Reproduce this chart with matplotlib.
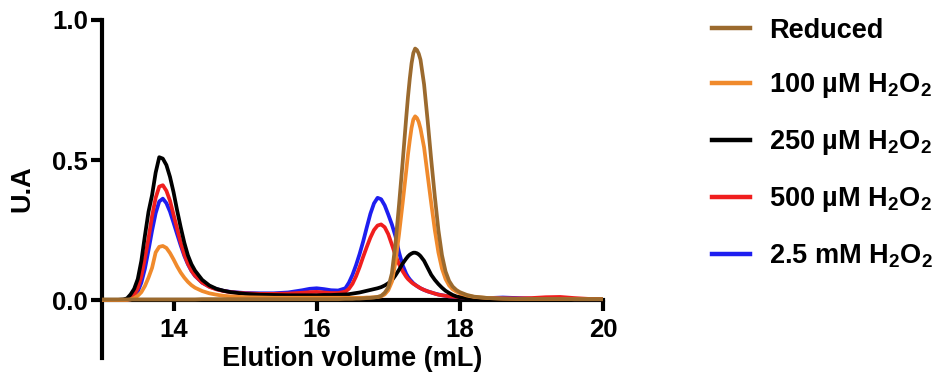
import numpy as np
import matplotlib
matplotlib.use('Agg')
import matplotlib.pyplot as plt

plt.rcParams['font.family'] = ['Liberation Sans', 'DejaVu Sans']
plt.rcParams['font.weight'] = 'bold'
plt.rcParams['mathtext.fontset'] = 'custom'
plt.rcParams['mathtext.rm'] = 'Liberation Sans:bold'
plt.rcParams['mathtext.it'] = 'Liberation Sans:bold'
plt.rcParams['mathtext.bf'] = 'Liberation Sans:bold'

########################################
# elution volume grid (mL) and absorbance
########################################

volume = [13.0, 13.2, 13.3, 13.35,
          13.4, 13.45, 13.5, 13.55, 13.6, 13.65, 13.7, 13.75, 13.8, 13.85,
          13.9, 13.95, 14.0, 14.05, 14.1, 14.15, 14.2, 14.25, 14.3,
          14.4, 14.5, 14.6, 14.7, 14.8, 15.0, 15.2, 15.4, 15.6, 15.8, 15.9,
          16.0, 16.1, 16.2, 16.3,
          16.4, 16.45, 16.5, 16.55, 16.6, 16.65, 16.7, 16.75, 16.8, 16.85,
          16.9, 16.95, 17.0, 17.05, 17.1, 17.15, 17.2, 17.25, 17.275, 17.3,
          17.325, 17.35, 17.375, 17.4, 17.425, 17.45,
          17.5, 17.55, 17.6, 17.65, 17.7, 17.75, 17.8, 17.85,
          17.9, 17.95, 18.0,
          18.1, 18.2, 18.4, 18.6, 18.8, 19.0, 19.2, 19.4, 19.6, 19.8, 20.0]

reduced = [0.002, 0.002, 0.002, 0.002,
           0.002, 0.002, 0.002, 0.002, 0.002, 0.002, 0.002, 0.002, 0.002, 0.002,
           0.002, 0.002, 0.002, 0.002, 0.002, 0.002, 0.002, 0.002, 0.002,
           0.003, 0.003, 0.003, 0.003, 0.003, 0.003, 0.003, 0.003, 0.003, 0.003, 0.003,
           0.003, 0.003, 0.003, 0.003,
           0.004, 0.004, 0.004, 0.005, 0.005, 0.006, 0.007, 0.008, 0.009, 0.011,
           0.015, 0.026, 0.045, 0.095, 0.2, 0.34, 0.49, 0.65, 0.725, 0.79,
           0.845, 0.882, 0.898, 0.893, 0.88, 0.858,
           0.77, 0.64, 0.5, 0.37, 0.25, 0.16, 0.102, 0.068,
           0.048, 0.036, 0.028,
           0.018, 0.012, 0.007, 0.005, 0.004, 0.004, 0.004, 0.004, 0.003, 0.003, 0.003]

h2o2_100uM = [0.0, 0.0, 0.0, 0.0,
              0.002, 0.007, 0.015, 0.028, 0.05, 0.08, 0.115, 0.17, 0.19, 0.193,
              0.186, 0.168, 0.145, 0.12, 0.098, 0.08, 0.065, 0.053, 0.044,
              0.032, 0.024, 0.019, 0.015, 0.013, 0.01, 0.009, 0.008, 0.008, 0.008, 0.008,
              0.008, 0.008, 0.008, 0.008,
              0.008, 0.008, 0.008, 0.008, 0.008, 0.008, 0.009, 0.009, 0.01, 0.011,
              0.013, 0.02, 0.035, 0.065, 0.135, 0.235, 0.345, 0.46, 0.52, 0.57,
              0.615, 0.645, 0.656, 0.65, 0.636, 0.612,
              0.545, 0.445, 0.345, 0.25, 0.17, 0.112, 0.075, 0.052,
              0.038, 0.03, 0.024,
              0.016, 0.011, 0.007, 0.005, 0.004, 0.004, 0.004, 0.004, 0.003, 0.003, 0.003]

h2o2_250uM = [0.0, 0.0, 0.002, 0.006,
              0.02, 0.04, 0.075, 0.14, 0.23, 0.315, 0.375, 0.455, 0.51, 0.505,
              0.482, 0.44, 0.385, 0.32, 0.26, 0.205, 0.16, 0.128, 0.105,
              0.072, 0.052, 0.04, 0.033, 0.028, 0.022, 0.019, 0.018, 0.017, 0.017, 0.017,
              0.017, 0.018, 0.018, 0.019,
              0.02, 0.021, 0.023, 0.025, 0.027, 0.03, 0.033, 0.036, 0.039, 0.042,
              0.046, 0.052, 0.06, 0.07, 0.088, 0.108, 0.13, 0.148, 0.156, 0.162,
              0.166, 0.169, 0.169, 0.167, 0.163, 0.157,
              0.14, 0.115, 0.09, 0.072, 0.057, 0.044, 0.033, 0.025,
              0.018, 0.013, 0.01,
              0.006, 0.004, 0.003, 0.002, 0.002, 0.002, 0.002, 0.002, 0.002, 0.002, 0.002]

h2o2_500uM = [0.0, 0.0, 0.0, 0.001,
              0.005, 0.018, 0.042, 0.085, 0.15, 0.22, 0.3, 0.365, 0.405, 0.41,
              0.39, 0.355, 0.305, 0.255, 0.205, 0.163, 0.13, 0.105, 0.087,
              0.062, 0.047, 0.038, 0.032, 0.028, 0.024, 0.022, 0.022, 0.023, 0.026, 0.028,
              0.029, 0.027, 0.025, 0.025,
              0.03, 0.04, 0.058, 0.085, 0.118, 0.155, 0.19, 0.223, 0.25, 0.266,
              0.27, 0.26, 0.235, 0.198, 0.16, 0.128, 0.103, 0.083, 0.075, 0.069,
              0.063, 0.058, 0.054, 0.05, 0.046, 0.042,
              0.036, 0.031, 0.027, 0.023, 0.019, 0.017, 0.015, 0.013,
              0.012, 0.011, 0.01,
              0.008, 0.007, 0.006, 0.006, 0.006, 0.007, 0.01, 0.011, 0.007, 0.004, 0.003]

h2o2_2500uM = [0.0, 0.0, 0.0, 0.0,
               0.003, 0.012, 0.03, 0.062, 0.112, 0.178, 0.248, 0.31, 0.352, 0.362,
               0.346, 0.316, 0.276, 0.235, 0.195, 0.158, 0.128, 0.104, 0.086,
               0.062, 0.048, 0.039, 0.033, 0.029, 0.025, 0.024, 0.024, 0.027, 0.035, 0.04,
               0.042, 0.039, 0.035, 0.034,
               0.042, 0.062, 0.09, 0.125, 0.165, 0.21, 0.26, 0.308, 0.345, 0.365,
               0.36, 0.338, 0.305, 0.27, 0.228, 0.17, 0.125, 0.094, 0.083, 0.074,
               0.067, 0.06, 0.055, 0.05, 0.046, 0.042,
               0.036, 0.031, 0.027, 0.023, 0.02, 0.017, 0.015, 0.013,
               0.012, 0.011, 0.01,
               0.008, 0.007, 0.007, 0.009, 0.007, 0.005, 0.004, 0.004, 0.003, 0.003, 0.003]

labels = ['Reduced', '100 µM H$_2$O$_2$', '250 µM H$_2$O$_2$',
          '500 µM H$_2$O$_2$', '2.5 mM H$_2$O$_2$']
colors = ['#9B6A2E', '#F08A2C', '#000000', '#F01E1E', '#1E1EF0']
series = [reduced, h2o2_100uM, h2o2_250uM, h2o2_500uM, h2o2_2500uM]

fig = plt.figure(figsize=(9.39, 3.89), dpi=100)
ax = fig.add_axes([0.1086, 0.0797, 0.5336, 0.8689])

handles = []
for i in range(len(series)):
    # first dataset on top, like the original
    ln, = ax.plot(volume, series[i], color=colors[i], lw=2.7,
                  zorder=10 - i, label=labels[i], solid_joinstyle='round')
    handles.append(ln)

ax.set_xlim(13, 20)
ax.set_ylim(-0.207, 1.0)
ax.set_xticks([14, 16, 18, 20])
ax.set_yticks([0.0, 0.5, 1.0])
ax.set_yticklabels(['0.0', '0.5', '1.0'])

ax.spines['top'].set_visible(False)
ax.spines['right'].set_visible(False)
ax.spines['bottom'].set_position(('data', 0))
ax.spines['left'].set_linewidth(3.0)
ax.spines['bottom'].set_linewidth(3.0)
ax.tick_params(axis='both', direction='out', length=8, width=3.0,
               labelsize=18.5)
ax.tick_params(axis='x', pad=5)
ax.tick_params(axis='y', pad=2)

ax.set_xlabel('Elution volume (mL)', fontsize=19.5, fontweight='bold', labelpad=3)
ax.set_ylabel('U.A', fontsize=19.5, fontweight='bold', labelpad=12)

leg = ax.legend(handles=handles, loc='upper left',
                bbox_to_anchor=(0.758, 0.955), bbox_transform=fig.transFigure,
                frameon=False, fontsize=19.5, handlelength=1.4,
                handletextpad=0.7, labelspacing=1.03, borderpad=0,
                borderaxespad=0)
for t in leg.get_texts():
    t.set_fontweight('bold')
for l in leg.get_lines():
    l.set_linewidth(3.2)

plt.savefig('out.png', dpi=100)
